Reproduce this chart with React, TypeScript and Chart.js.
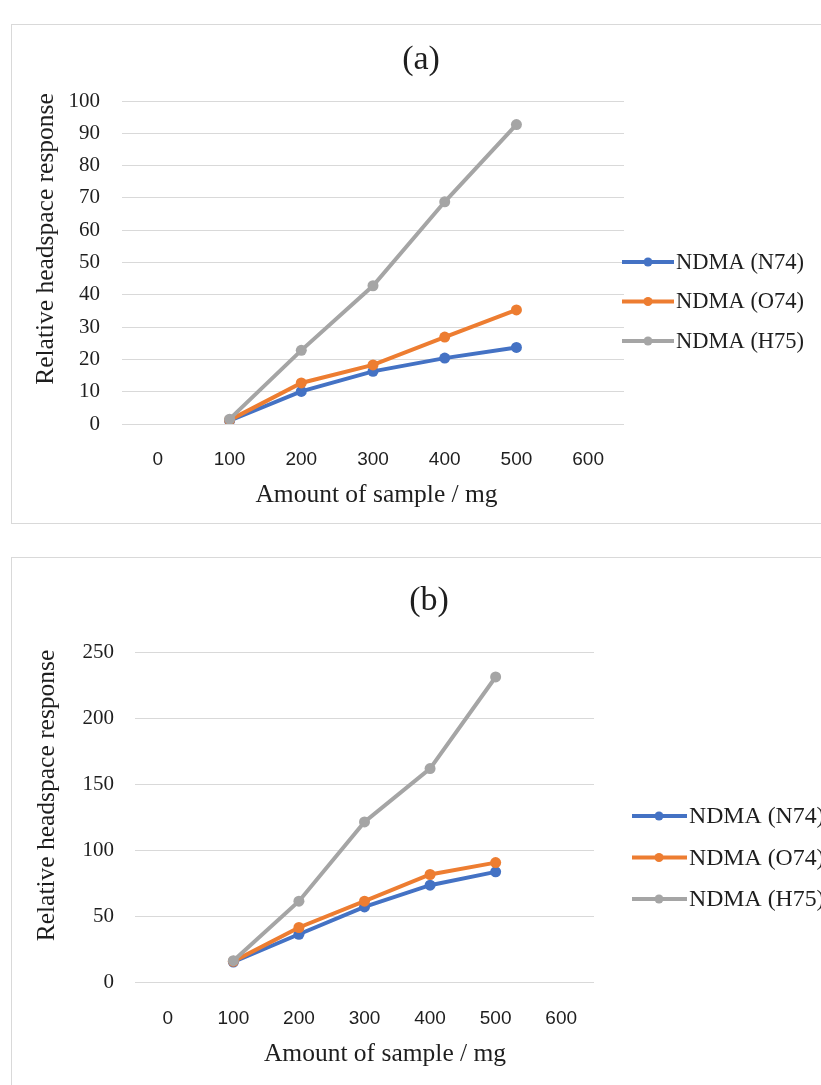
import React, { useEffect, useRef } from 'react';
import { Chart, registerables } from 'chart.js';

Chart.register(...registerables);

const SERIF = "'Liberation Serif', 'Times New Roman', serif";
const SANS = "'Liberation Sans', Arial, sans-serif";
const TEXT = '#1e1e1e';
const GRID = '#d9d9d9';

const categories = ['0', '100', '200', '300', '400', '500', '600'];
const seriesNames = ['NDMA (N74)', 'NDMA (O74)', 'NDMA (H75)'];
const seriesColors = ['#4472C4', '#ED7D31', '#A5A5A5'];

// Chart (a)
const aN74 = [null, 1.0, 10.1, 16.3, 20.4, 23.7, null];
const aO74 = [null, 1.2, 12.7, 18.3, 26.9, 35.3, null];
const aH75 = [null, 1.5, 22.8, 42.8, 68.8, 92.7, null];
const aYMax = 100;
const aYStep = 10;

// Chart (b)
const bN74 = [null, 15.5, 36.5, 57.2, 73.6, 83.7, null];
const bO74 = [null, 16.0, 41.6, 61.5, 81.7, 90.7, null];
const bH75 = [null, 16.5, 61.5, 121.5, 161.8, 231.1, null];
const bYMax = 250;
const bYStep = 50;

const xTitleText = 'Amount of sample / mg';
const yTitleText = 'Relative headspace response';

const decorPlugin = {
  id: 'decor',
  afterDraw(chart: any, _args: any, opts: any) {
    const ctx = chart.ctx as CanvasRenderingContext2D;
    ctx.save();
    ctx.fillStyle = TEXT;
    ctx.textBaseline = 'middle';
    // y axis title
    ctx.font = `${opts.axisFont}px ${SERIF}`;
    ctx.textAlign = 'center';
    ctx.save();
    ctx.translate(opts.yTitleX, opts.yTitleY);
    ctx.rotate(-Math.PI / 2);
    ctx.fillText(yTitleText, 0, 0);
    ctx.restore();
    // x axis title
    ctx.fillText(xTitleText, opts.xTitleX, opts.xTitleY);
    // legend
    ctx.font = `${opts.legendFont}px ${SERIF}`;
    ctx.textAlign = 'left';
    chart.data.datasets.forEach((ds: any, i: number) => {
      const y = opts.legendTop + i * opts.legendGap;
      ctx.strokeStyle = ds.borderColor;
      ctx.lineWidth = 4;
      ctx.beginPath();
      ctx.moveTo(opts.legendX0, y);
      ctx.lineTo(opts.legendX1, y);
      ctx.stroke();
      ctx.fillStyle = ds.borderColor;
      ctx.beginPath();
      ctx.arc(opts.legendMarker, y, 4.5, 0, Math.PI * 2);
      ctx.fill();
      ctx.fillStyle = TEXT;
      ctx.fillText(ds.label, opts.legendText, y + 1);
    });
    ctx.restore();
  },
};

function makeConfig(p: any): any {
  const sets = [p.n74, p.o74, p.h75];
  return {
    type: 'line',
    data: {
      labels: categories,
      datasets: sets.map((d: any, i: number) => ({
        label: seriesNames[i],
        data: d,
        borderColor: seriesColors[i],
        backgroundColor: seriesColors[i],
        pointBackgroundColor: seriesColors[i],
        pointBorderColor: seriesColors[i],
        borderWidth: 4,
        pointRadius: 5.5,
        pointBorderWidth: 0,
        tension: 0,
        spanGaps: false,
        order: 2 - i,
        yAxisID: 'y',
      })),
    },
    options: {
      responsive: false,
      animation: false,
      devicePixelRatio: 1,
      events: [],
      layout: { padding: 0 },
      plugins: {
        legend: { display: false },
        tooltip: { enabled: false },
        title: {
          display: true,
          text: p.title,
          color: TEXT,
          font: { family: SERIF, size: 34, weight: 'normal', lineHeight: 1.2 },
          padding: { top: p.titlePadTop, bottom: p.titlePadBottom },
        },
        decor: p.decor,
      },
      scales: {
        x: {
          type: 'category',
          offset: true,
          grid: { display: false },
          border: { display: false },
          ticks: {
            color: TEXT,
            font: { family: SANS, size: 19 },
            padding: p.xTickPad,
            maxRotation: 0,
            autoSkip: false,
          },
          afterFit: (s: any) => {
            s.height = p.xAxisHeight;
          },
        },
        y: {
          position: 'left',
          min: 0,
          max: p.yMax,
          ticks: {
            stepSize: p.yStep,
            color: TEXT,
            font: { family: SERIF, size: 21 },
            padding: p.yTickPad,
          },
          grid: { color: GRID, lineWidth: 1, drawTicks: false },
          border: { display: false },
          afterFit: (s: any) => {
            s.width = p.yAxisWidth;
          },
        },
        legendSpace: {
          type: 'linear',
          axis: 'y',
          position: 'right',
          display: true,
          grid: { display: false },
          border: { display: false },
          ticks: { display: false },
          afterFit: (s: any) => {
            s.width = p.rightSpace;
          },
        },
      },
    },
    plugins: [decorPlugin],
  };
}

export default function App() {
  const refA = useRef<HTMLCanvasElement>(null);
  const refB = useRef<HTMLCanvasElement>(null);

  useEffect(() => {
    const chartA = new Chart(
      refA.current as HTMLCanvasElement,
      makeConfig({
        title: '(a)',
        n74: aN74,
        o74: aO74,
        h75: aH75,
        yMax: aYMax,
        yStep: aYStep,
        rightSpace: 207,
        titlePadTop: 15.6,
        titlePadBottom: 20.6,
        xAxisHeight: 99,
        xTickPad: 16,
        yTickPad: 22,
        yAxisWidth: 111,
        decor: {
          axisFont: 25.5,
          legendFont: 22.5,
          yTitleX: 35,
          yTitleY: 215,
          xTitleX: 365.5,
          xTitleY: 470.8,
          legendTop: 238,
          legendGap: 39.5,
          legendX0: 611,
          legendX1: 663,
          legendMarker: 637,
          legendText: 665,
        },
      })
    );
    const chartB = new Chart(
      refB.current as HTMLCanvasElement,
      makeConfig({
        title: '(b)',
        n74: bN74,
        o74: bO74,
        h75: bH75,
        yMax: bYMax,
        yStep: bYStep,
        rightSpace: 253,
        titlePadTop: 24,
        titlePadBottom: 30.2,
        xAxisHeight: 102.5,
        xTickPad: 17,
        yTickPad: 21,
        yAxisWidth: 124,
        decor: {
          axisFont: 25.5,
          legendFont: 23.8,
          yTitleX: 36,
          yTitleY: 238.5,
          xTitleX: 374,
          xTitleY: 497.4,
          legendTop: 259,
          legendGap: 41.5,
          legendX0: 621,
          legendX1: 676,
          legendMarker: 648,
          legendText: 678,
        },
      })
    );
    return () => {
      chartA.destroy();
      chartB.destroy();
    };
  }, []);

  const boxStyle = (top: number, height: number): React.CSSProperties => ({
    position: 'absolute',
    left: 11,
    top,
    width: 840,
    height,
    border: `1px solid ${GRID}`,
    boxSizing: 'border-box',
    background: '#fff',
  });

  return (
    <div
      style={{
        position: 'absolute',
        left: 0,
        top: 0,
        width: 821,
        height: 1085,
        overflow: 'hidden',
        background: '#fff',
      }}
    >
      <div style={boxStyle(24, 500)} />
      <div style={boxStyle(557, 560)} />
      <canvas
        ref={refA}
        width={820}
        height={499}
        style={{ position: 'absolute', left: 11, top: 24, width: 820, height: 499 }}
      />
      <canvas
        ref={refB}
        width={836}
        height={528}
        style={{ position: 'absolute', left: 11, top: 557, width: 836, height: 528 }}
      />
    </div>
  );
}
